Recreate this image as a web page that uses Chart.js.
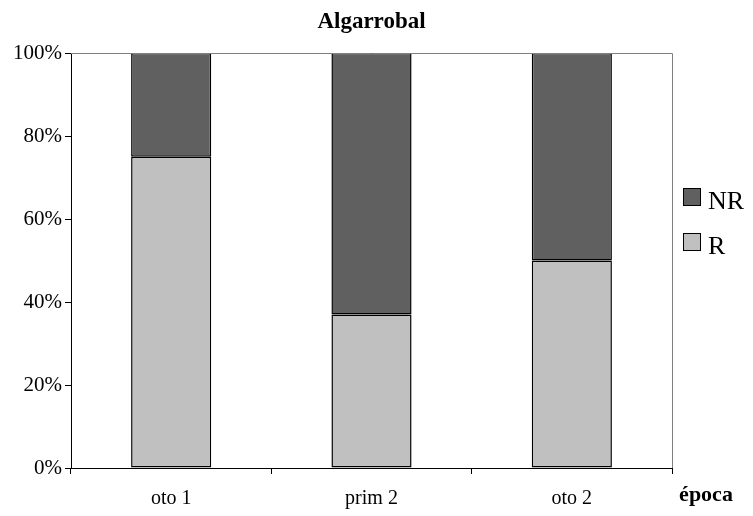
<!DOCTYPE html>
<html>
<head>
<meta charset="utf-8">
<script src="https://cdn.jsdelivr.net/npm/chart.js@4"></script>
<style>
  html, body { margin: 0; padding: 0; background: #fff; }
  #chart { display: block; }
</style>
</head>
<body>
<canvas id="chart" width="753" height="516"></canvas>
<script>
const categories = ['oto 1', 'prim 2', 'oto 2'];
const valuesR = [75, 37, 50];
const valuesNR = [25, 63, 50];
const yTicks = [0, 20, 40, 60, 80, 100];

const serif = '"Liberation Serif", "Times New Roman", serif';

// plot frame (grey top/right), title, axis title and legend
const extras = {
    id: 'extras',
    afterDraw(chart) {
        const ctx = chart.ctx;
        const a = chart.chartArea;
        ctx.save();
        ctx.strokeStyle = '#808080';
        ctx.lineWidth = 1;
        ctx.beginPath();
        ctx.moveTo(a.left, a.top + 0.5);
        ctx.lineTo(a.right + 0.5, a.top + 0.5);
        ctx.lineTo(a.right + 0.5, a.bottom);
        ctx.stroke();

        ctx.fillStyle = '#000';
        ctx.font = 'bold 23px ' + serif;
        ctx.textAlign = 'center';
        ctx.textBaseline = 'middle';
        ctx.fillText('Algarrobal', (a.left + a.right) / 2, 22);
        ctx.font = 'bold 22px ' + serif;
        ctx.fillText('época', 706, 495);

        // legend, NR on top
        const ds = chart.data.datasets.slice().reverse();
        ctx.font = '26px ' + serif;
        ctx.textAlign = 'left';
        ctx.textBaseline = 'alphabetic';
        ds.forEach((d, i) => {
            const y = 188 + i * 45;
            ctx.fillStyle = d.backgroundColor;
            ctx.fillRect(683, y, 18, 18);
            ctx.strokeStyle = '#000';
            ctx.strokeRect(683.5, y + 0.5, 17, 17);
            ctx.fillStyle = '#000';
            ctx.fillText(d.label, 708, y + 21);
        });
        ctx.restore();
    }
};

new Chart(document.getElementById('chart'), {
    type: 'bar',
    data: {
        labels: categories,
        datasets: [
            { label: 'R', data: valuesR, backgroundColor: '#c0c0c0', borderColor: '#000', borderWidth: 1.5, borderSkipped: false },
            { label: 'NR', data: valuesNR, backgroundColor: '#606060', borderColor: '#000', borderWidth: 1.5, borderSkipped: false }
        ]
    },
    options: {
        responsive: false,
        animation: false,
        layout: { padding: { top: 53, right: 81, bottom: 0, left: 0 } },
        datasets: { bar: { categoryPercentage: 1, barPercentage: 0.4 } },
        plugins: {
            legend: { display: false },
            title: { display: false },
            tooltip: { enabled: false }
        },
        scales: {
            x: {
                stacked: true,
                afterFit: s => { s.height = 48; },
                border: { color: '#000', width: 1 },
                grid: { drawOnChartArea: false, tickLength: 6, tickColor: '#000', offset: true },
                ticks: { color: '#000', padding: 13, font: { family: serif, size: 20 } }
            },
            y: {
                stacked: true,
                min: 0,
                max: 100,
                afterFit: s => { s.width = 71; },
                afterBuildTicks: s => { s.ticks = yTicks.map(v => ({ value: v })); },
                border: { color: '#000', width: 1 },
                grid: { drawOnChartArea: false, tickLength: 6, tickColor: '#000' },
                ticks: {
                    color: '#000',
                    padding: 3,
                    font: { family: serif, size: 21 },
                    callback: v => v + '%'
                }
            }
        }
    },
    plugins: [extras]
});
</script>
</body>
</html>
